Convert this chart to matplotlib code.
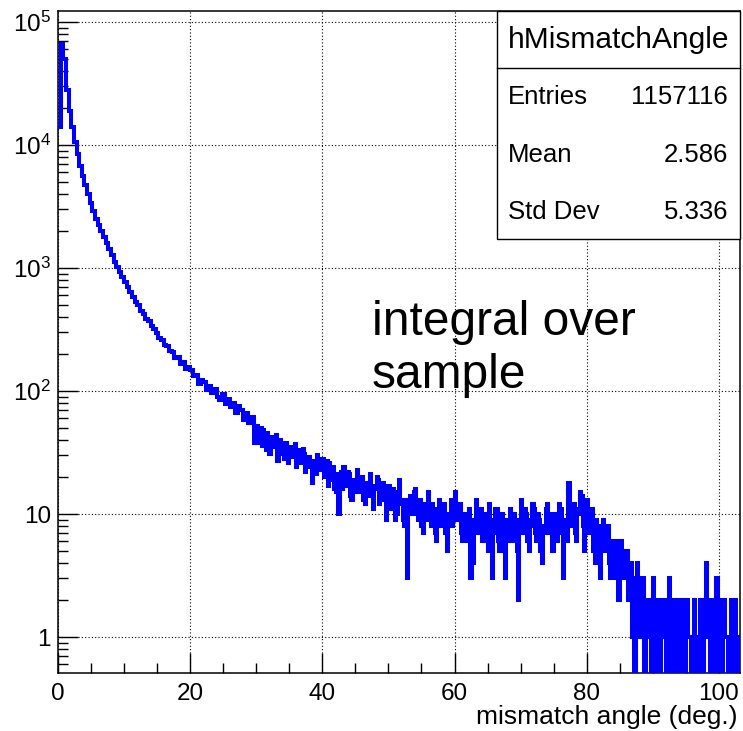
import numpy as np
import matplotlib
matplotlib.use('Agg')
import matplotlib.pyplot as plt
from matplotlib.patches import Rectangle
from matplotlib.lines import Line2D
from matplotlib.ticker import MultipleLocator, LogLocator, FuncFormatter, NullFormatter

plt.rcParams['font.family'] = ['Liberation Sans', 'DejaVu Sans']
plt.rcParams['mathtext.fontset'] = 'custom'
plt.rcParams['mathtext.rm'] = 'Liberation Sans'

# histogram contents
# 0.4 deg bins from 0 to 30 deg
coarse_width = 0.4
counts_0_10 = [14000, 66000, 50000, 28000, 19000, 14000, 10500, 8500, 6800, 5600,
               4700, 4000, 3400, 2900, 2500, 2250, 2000, 1790, 1600, 1420,
               1270, 1130, 1020, 930, 845]
counts_10_20 = [770, 700, 635, 585, 525, 500, 445, 425, 385, 372,
                335, 322, 298, 272, 262, 238, 232, 210, 206, 186,
                190, 166, 172, 150, 158]
counts_20_30 = [148, 132, 136, 115, 124, 118, 102, 110, 96, 104,
                90, 84, 95, 78, 86, 74, 80, 66, 76, 70,
                58, 66, 55, 62, 38]
# 0.2 deg bins from 30 to 103.2 deg
fine_width = 0.2
counts_30_40 = [52, 38, 44, 50, 36, 48, 40, 33, 46, 37, 31, 42, 42, 35, 38, 44, 27, 36, 40, 31,
                34, 28, 38, 32, 26, 35, 35, 29, 31, 37, 24, 30, 33, 26, 28, 34, 31, 22, 24, 29,
                29, 25, 18, 27, 27, 21, 30, 24, 23, 28]
counts_40_50 = [28, 20, 22, 27, 17, 26, 19, 24, 24, 16, 15, 21, 10, 18, 22, 16, 24, 18, 17, 22,
                21, 14, 13, 19, 19, 15, 23, 17, 15, 20, 20, 13, 12, 18, 17, 14, 21, 16, 11, 17,
                16, 20, 19, 12, 13, 17, 18, 14, 9, 15]
counts_50_60 = [17, 11, 12, 16, 15, 9, 10, 14, 19, 12, 13, 9, 8, 13, 3, 11, 14, 10, 11, 15,
                16, 10, 9, 13, 13, 8, 7, 12, 12, 9, 15, 10, 8, 12, 11, 7, 6, 10, 13, 8,
                9, 12, 12, 7, 5, 10, 10, 13, 8, 11]
counts_60_70 = [15, 9, 9, 12, 12, 7, 6, 10, 10, 6, 7, 11, 3, 8, 4, 9, 13, 7, 8, 11,
                11, 6, 6, 10, 9, 5, 12, 8, 3, 9, 7, 11, 11, 6, 5, 9, 10, 7, 3, 8,
                9, 6, 11, 7, 6, 10, 8, 5, 2, 9]
counts_70_80 = [13, 8, 7, 11, 10, 6, 5, 9, 8, 12, 11, 7, 6, 10, 9, 5, 4, 8, 7, 11,
                12, 7, 8, 10, 5, 9, 10, 6, 7, 12, 11, 7, 3, 9, 9, 6, 18, 10, 8, 12,
                12, 7, 6, 11, 10, 15, 14, 8, 5, 10]
counts_80_90 = [13, 8, 7, 11, 11, 5, 4, 9, 8, 4, 3, 7, 9, 5, 5, 8, 8, 4, 3, 6,
                6, 3, 4, 6, 2, 5, 6, 3, 3, 5, 5, 2, 2, 4, 1, 3, 0, 2, 4, 1,
                1, 3, 3, 0, 0, 2, 2, 1, 1, 0]
counts_90_100 = [3, 1, 0, 2, 2, 0, 1, 2, 2, 1, 0, 1, 3, 0, 1, 2, 0, 1, 2, 0,
                 1, 1, 2, 0, 0, 2, 2, 1, 1, 0, 1, 2, 0, 1, 1, 0, 2, 1, 0, 2,
                 4, 1, 2, 0, 0, 1, 2, 0, 3, 1]
counts_100_103 = [2, 0, 0, 1, 2, 1, 1, 0, 0, 2, 1, 0, 2, 1, 0, 1]

coarse = np.array(counts_0_10 + counts_10_20 + counts_20_30, dtype=float)
fine = np.array(counts_30_40 + counts_40_50 + counts_50_60 + counts_60_70 +
                counts_70_80 + counts_80_90 + counts_90_100 + counts_100_103, dtype=float)
counts = np.concatenate([coarse, fine])
edges = np.concatenate([np.arange(len(coarse) + 1) * coarse_width,
                        len(coarse) * coarse_width + np.arange(1, len(fine) + 1) * fine_width])

stats_title = 'hMismatchAngle'
stats_rows = [('Entries', '1157116'), ('Mean', '2.586'), ('Std Dev', '5.336')]

W, H = 743, 731
fig = plt.figure(figsize=(W / 100, H / 100), dpi=100)
ax = fig.add_axes([58 / W, 1 - 673 / H, (740 - 58) / W, (673 - 11) / H])

# empty bins go below the log axis, like ROOT does
ax.stairs(np.where(counts > 0, counts, 0.1), edges, baseline=None,
          color=(0, 0, 1), linewidth=2.9, joinstyle='miter', zorder=3)

ax.set_yscale('log')
ax.set_xlim(0, edges[-1])
ax.set_ylim(0.51, 1.23e5)

ax.xaxis.set_major_locator(MultipleLocator(20))
ax.xaxis.set_minor_locator(MultipleLocator(5))
ax.yaxis.set_major_locator(LogLocator(base=10, numticks=10))
ax.yaxis.set_minor_locator(LogLocator(base=10, subs=np.arange(2, 10), numticks=20))
ax.yaxis.set_minor_formatter(NullFormatter())


def ylab(v, pos):
    if v == 1:
        return '1'
    if v == 10:
        return '10'
    return r'$\mathregular{10^{%d}}$' % round(np.log10(v))


ax.yaxis.set_major_formatter(FuncFormatter(ylab))
ax.tick_params(which='both', direction='in', top=False, right=False, width=1)
ax.tick_params(which='major', length=14.4, labelsize=17.5)
ax.tick_params(which='minor', length=7.2)
ax.tick_params(axis='x', which='major', pad=7)
ax.tick_params(axis='y', which='major', pad=5)
for s in ax.spines.values():
    s.set_linewidth(1.1)

ax.grid(True, which='major', color='black', linestyle=(0, (1, 2)), linewidth=0.8)
ax.set_axisbelow(True)

fig.text(738 / W, 1 - 717 / H, 'mismatch angle (deg.)', ha='right', va='center', fontsize=19)
fig.text(372 / W, 1 - 300 / H, 'integral over\nsample', ha='left', va='top',
         fontsize=34.5, linespacing=1.22)

# stats box
x0, x1, y0, y1 = 497, 740, 11, 239
fig.add_artist(Rectangle((x0 / W, 1 - y1 / H), (x1 - x0) / W, (y1 - y0) / H,
                         transform=fig.transFigure, facecolor='white',
                         edgecolor='black', linewidth=1.0, zorder=5))
fig.add_artist(Line2D([x0 / W, x1 / W], [1 - 68 / H, 1 - 68 / H],
                      transform=fig.transFigure, color='black', linewidth=1.0, zorder=6))
fig.text((x0 + x1) / 2 / W, 1 - 40 / H, stats_title, ha='center', va='center',
         fontsize=21.5, zorder=7)
for i, (name, val) in enumerate(stats_rows):
    yy = 1 - (97 + i * 57.5) / H
    fig.text(508 / W, yy, name, ha='left', va='center', fontsize=18.5, zorder=7)
    fig.text(728 / W, yy, val, ha='right', va='center', fontsize=18.5, zorder=7)

fig.savefig('out.png', dpi=100)
